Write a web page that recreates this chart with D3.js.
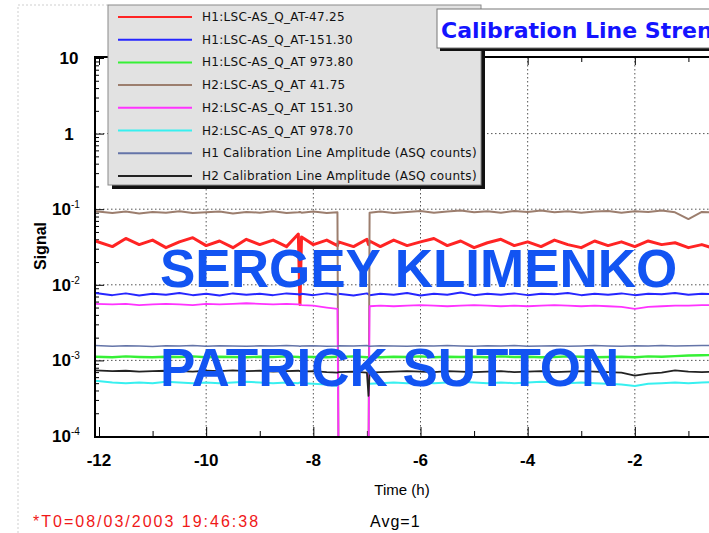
<!DOCTYPE html>
<html lang="en">
<head>
<meta charset="UTF-8">
<title>Calibration Line Strength</title>
<script src="https://d3js.org/d3.v7.min.js"></script>
<style>
  body { margin: 0; background: #fff; }
  svg { display: block; }
</style>
</head>
<body>
<script>
// time in hours before T0
var hours = [-12.07, -11.75, -11.5, -11.25, -11, -10.75, -10.5, -10.25, -10, -9.75,
             -9.5, -9.25, -9, -8.75, -8.5, -8.28, -8.25, -8.22, -8, -7.75,
             -7.55, -7.53, -7.25, -7, -6.97, -6.95, -6.75, -6.5, -6.25, -6,
             -5.75, -5.5, -5.25, -5, -4.75, -4.5, -4.25, -4, -3.75, -3.5,
             -3.25, -3, -2.75, -2.5, -2.25, -2, -1.75, -1.5, -1.25, -1,
             -0.75, -0.5];

var h1Low = [0.038, 0.032, 0.041, 0.034, 0.039, 0.031, 0.037, 0.042, 0.033, 0.038,
             0.031, 0.040, 0.034, 0.039, 0.032, 0.047, 0.0055, 0.043, 0.034, 0.039,
             0.033, 0.037, 0.032, 0.040, 0.034, 0.038, 0.032, 0.039, 0.033, 0.037,
             0.041, 0.033, 0.038, 0.031, 0.036, 0.040, 0.033, 0.037, 0.032, 0.039,
             0.034, 0.031, 0.038, 0.033, 0.037, 0.032, 0.038, 0.034, 0.036, 0.031,
             0.034, 0.030];
var h1Mid = [0.0078, 0.0073, 0.0077, 0.0072, 0.0076, 0.0074, 0.0078, 0.0073, 0.0076, 0.0072,
             0.0077, 0.0074, 0.0076, 0.0073, 0.0077, 0.0075, 0.0074, 0.0076, 0.0073, 0.0077,
             0.0074, 0.0076, 0.0072, 0.0077, 0.0075, 0.0073, 0.0076, 0.0074, 0.0078, 0.0072,
             0.0076, 0.0074, 0.0079, 0.0073, 0.0076, 0.0074, 0.0077, 0.0073, 0.0076, 0.0075,
             0.0078, 0.0073, 0.0076, 0.0074, 0.0077, 0.0073, 0.0076, 0.0075, 0.0078, 0.0074,
             0.0076, 0.0075];
var h1High = [0.00112, 0.00110, 0.00113, 0.00111, 0.00110, 0.00112, 0.00111, 0.00113, 0.00110, 0.00112,
              0.00111, 0.00110, 0.00112, 0.00111, 0.00113, 0.00111, 0.00110, 0.00112, 0.00111, 0.00110,
              0.00112, 0.00111, 0.00113, 0.00110, 0.00111, 0.00112, 0.00110, 0.00112, 0.00111, 0.00113,
              0.00110, 0.00112, 0.00111, 0.00112, 0.00110, 0.00113, 0.00111, 0.00112, 0.00110, 0.00111,
              0.00113, 0.00112, 0.00110, 0.00111, 0.00112, 0.00110, 0.00113, 0.00112, 0.00114, 0.00116,
              0.00117, 0.00118];
// 0 = H2 out of lock
var h2Low = [0.094, 0.089, 0.093, 0.088, 0.092, 0.090, 0.094, 0.089, 0.091, 0.093,
             0.088, 0.092, 0.090, 0.094, 0.089, 0.091, 0.092, 0.090, 0.093, 0.089,
             0.091, 0, 0, 0, 0, 0.090, 0.093, 0.089, 0.092, 0.095,
             0.090, 0.093, 0.096, 0.091, 0.094, 0.090, 0.095, 0.092, 0.096, 0.091,
             0.094, 0.090, 0.093, 0.095, 0.090, 0.094, 0.092, 0.096, 0.091, 0.074,
             0.092, 0.090];
var h2Mid = [0.0056, 0.0055, 0.0056, 0.0054, 0.0055, 0.0056, 0.0055, 0.0054, 0.0056, 0.0055,
             0.0056, 0.0057, 0.0056, 0.0055, 0.0056, 0.0055, 0.0055, 0.0054, 0.0053, 0.0050,
             0.0048, 0, 0, 0, 0, 0.0052, 0.0053, 0.0052, 0.0053, 0.0054,
             0.0053, 0.0052, 0.0053, 0.0054, 0.0053, 0.0052, 0.0053, 0.0052, 0.0053, 0.0054,
             0.0053, 0.0052, 0.0053, 0.0052, 0.0051, 0.0048, 0.0051, 0.0052, 0.0053, 0.0053,
             0.0054, 0.0054];
var h2High = [0.00054, 0.00051, 0.00050, 0.00051, 0.00050, 0.00052, 0.00051, 0.00050, 0.00051, 0.00050,
              0.00051, 0.00052, 0.00051, 0.00050, 0.00051, 0.00050, 0.00051, 0.00050, 0.00049, 0.00048,
              0.00046, null, null, null, null, 0.00049, 0.00050, 0.00051, 0.00050, 0.00051,
              0.00050, 0.00051, 0.00052, 0.00051, 0.00050, 0.00051, 0.00050, 0.00051, 0.00052, 0.00051,
              0.00050, 0.00051, 0.00050, 0.00049, 0.00048, 0.00046, 0.00049, 0.00050, 0.00051, 0.00050,
              0.00051, 0.00052];
var h1Amp = [0.00157, 0.00154, 0.00156, 0.00155, 0.00153, 0.00156, 0.00155, 0.00157, 0.00154, 0.00156,
             0.00155, 0.00154, 0.00156, 0.00155, 0.00157, 0.00155, 0.00154, 0.00155, 0.00156, 0.00154,
             0.00155, 0.00156, 0.00155, 0.00157, 0.00155, 0.00154, 0.00156, 0.00155, 0.00154, 0.00156,
             0.00155, 0.00157, 0.00155, 0.00154, 0.00156, 0.00155, 0.00157, 0.00154, 0.00155, 0.00156,
             0.00154, 0.00155, 0.00157, 0.00155, 0.00154, 0.00156, 0.00155, 0.00157, 0.00155, 0.00156,
             0.00158, 0.00157];
var h2Amp = [0.00074, 0.00072, 0.00073, 0.00071, 0.00072, 0.00073, 0.00072, 0.00071, 0.00073, 0.00072,
             0.00074, 0.00072, 0.00073, 0.00071, 0.00072, 0.00073, 0.00072, 0.00071, 0.00072, 0.00070,
             0.00069, 0.00070, 0.00071, 0.00069, 0.00034, 0.00069, 0.00070, 0.00071, 0.00072, 0.00071,
             0.00070, 0.00072, 0.00071, 0.00070, 0.00071, 0.00072, 0.00070, 0.00071, 0.00072, 0.00070,
             0.00071, 0.00072, 0.00071, 0.00070, 0.00069, 0.00063, 0.00067, 0.00069, 0.00074, 0.00071,
             0.00070, 0.00071];

var seriesNames = ["H1:LSC-AS_Q_AT-47.25", "H1:LSC-AS_Q_AT-151.30", "H1:LSC-AS_Q_AT 973.80",
                   "H2:LSC-AS_Q_AT 41.75", "H2:LSC-AS_Q_AT 151.30", "H2:LSC-AS_Q_AT 978.70",
                   "H1 Calibration Line Amplitude (ASQ counts)", "H2 Calibration Line Amplitude (ASQ counts)"];
var seriesValues = [h1Low, h1Mid, h1High, h2Low, h2Mid, h2High, h1Amp, h2Amp];
var seriesColors = ["#ff2424", "#2626ff", "#36f036", "#9c7e6e", "#ff33ff", "#38f0f0", "#6474a8", "#222222"];
var seriesWidths = [3, 2, 2.4, 2, 1.8, 2, 1.5, 1.8];

var xMajor = [-12, -10, -8, -6, -4, -2];
var xMinor = [-11, -9, -7, -5, -3, -1];
var xGrid = [-10, -8, -6, -4, -2];
var yMajor = [1e-4, 1e-3, 1e-2, 1e-1, 1, 10];
var yLabels = ["10^-4", "10^-3", "10^-2", "10^-1", "1", "10"];
var yGrid = [1e-3, 1e-2, 1e-1, 1];

var width = 709, height = 533;
var plotLeft = 95, plotTop = 57, plotBottom = 437, plotRight = 742;

var svg = d3.select('body').append('svg')
  .attr('width', width)
  .attr('height', height);

var xScale = d3.scaleLinear().domain([-12, 0]).range([99, 742]);
var yScale = d3.scaleLog().domain([1e-4, 10]).range([436, 58]);

// faint page border
svg.append('path')
  .attr('d', 'M18,' + height + 'V5H110')
  .attr('fill', 'none')
  .attr('stroke', '#cfcfcf')
  .attr('stroke-dasharray', '2,2');

svg.append('clipPath').attr('id', 'plotclip')
  .append('rect')
  .attr('x', plotLeft).attr('y', plotTop)
  .attr('width', plotRight - plotLeft).attr('height', plotBottom - plotTop);

// grid
var grid = svg.append('g')
  .attr('stroke', '#555')
  .attr('stroke-width', 1)
  .attr('stroke-dasharray', '1.5,2.5');
grid.selectAll('.gx').data(xGrid).enter().append('line')
  .attr('x1', function(d) { return xScale(d); })
  .attr('x2', function(d) { return xScale(d); })
  .attr('y1', plotTop).attr('y2', plotBottom);
grid.selectAll('.gy').data(yGrid).enter().append('line')
  .attr('x1', plotLeft).attr('x2', plotRight)
  .attr('y1', function(d) { return yScale(d); })
  .attr('y2', function(d) { return yScale(d); });

// ticks, drawn inward
var minorY = yScale.ticks().filter(function(d) { return yMajor.indexOf(d) < 0; });
function tickGroup(axis, tx, ty) {
  var g = svg.append('g').attr('transform', 'translate(' + tx + ',' + ty + ')').call(axis);
  g.select('.domain').remove();
  g.selectAll('line').attr('stroke', '#000');
  return g;
}
tickGroup(d3.axisRight(yScale).tickValues(minorY).tickSize(4).tickFormat(''), plotLeft, 0);
tickGroup(d3.axisRight(yScale).tickValues(yMajor).tickSize(9).tickFormat(''), plotLeft, 0);
tickGroup(d3.axisTop(xScale).tickValues(xMinor).tickSize(6).tickFormat(''), 0, plotBottom);
tickGroup(d3.axisTop(xScale).tickValues(xMajor).tickSize(10).tickFormat(''), 0, plotBottom);
tickGroup(d3.axisBottom(xScale).tickValues(xMinor).tickSize(5).tickFormat(''), 0, plotTop);
tickGroup(d3.axisBottom(xScale).tickValues(xMajor).tickSize(8).tickFormat(''), 0, plotTop);

// data lines (H2 lock loss: brown under a semi-transparent magenta gives the mauve drop)
var plot = svg.append('g').attr('clip-path', 'url(#plotclip)');
seriesValues.forEach(function(vals, s) {
  var pts = hours.map(function(h, i) { return [h, vals[i]]; });
  var line = d3.line()
    .defined(function(d) { return d[1] !== null; })
    .x(function(d) { return xScale(d[0]); })
    .y(function(d) { return d[1] > 0 ? yScale(d[1]) : plotBottom + 20; });
  plot.append('path')
    .datum(pts)
    .attr('d', line)
    .attr('fill', 'none')
    .attr('stroke', seriesColors[s])
    .attr('stroke-width', seriesWidths[s])
    .attr('stroke-linejoin', 'round');
});

// frame
svg.append('path')
  .attr('d', 'M' + plotRight + ',' + plotTop + 'H' + plotLeft + 'V' + plotBottom + 'H' + plotRight)
  .attr('fill', 'none')
  .attr('stroke', '#000')
  .attr('stroke-width', 2);

// tick labels
var bold = 'font-family:"Liberation Sans",Arial,sans-serif;font-weight:bold;';
svg.selectAll('.xl').data(xMajor).enter().append('text')
  .attr('x', function(d) { return xScale(d); })
  .attr('y', 466)
  .attr('text-anchor', 'middle')
  .attr('style', bold + 'font-size:17px')
  .text(function(d) { return d; });

yMajor.forEach(function(v, i) {
  var parts = yLabels[i].split('^');
  var t = svg.append('text')
    .attr('x', parts.length > 1 ? 66 : 69)
    .attr('y', yScale(v) + 6)
    .attr('text-anchor', 'middle')
    .attr('style', bold + 'font-size:17px');
  t.append('tspan').text(parts[0]);
  if (parts.length > 1) {
    t.append('tspan')
      .attr('dy', -7)
      .attr('style', 'font-size:10px;font-weight:normal')
      .text(parts[1]);
  }
});

svg.append('text')
  .attr('transform', 'translate(46,246) rotate(-90)')
  .attr('text-anchor', 'middle')
  .attr('style', bold + 'font-size:16px')
  .text('Signal');

svg.append('text')
  .attr('x', 402).attr('y', 495)
  .attr('text-anchor', 'middle')
  .attr('style', 'font-family:"Liberation Sans",Arial,sans-serif;font-size:15px')
  .text('Time (h)');

svg.append('text')
  .attr('x', 33).attr('y', 527)
  .attr('fill', '#f01818')
  .attr('style', 'font-family:"Liberation Sans",Arial,sans-serif;font-size:16px;letter-spacing:2px')
  .text('*T0=08/03/2003 19:46:38');

svg.append('text')
  .attr('x', 370).attr('y', 527)
  .attr('style', 'font-family:"Liberation Sans",Arial,sans-serif;font-size:16px;letter-spacing:1px')
  .text('Avg=1');

// legend
var lg = svg.append('g');
lg.append('rect').attr('x', 112).attr('y', 9).attr('width', 373).attr('height', 180).attr('fill', '#111');
lg.append('rect').attr('x', 108).attr('y', 5).attr('width', 373).attr('height', 180)
  .attr('fill', '#e2e2e2').attr('stroke', '#8a8a8a');
var rows = lg.selectAll('.row').data(seriesNames).enter().append('g')
  .attr('transform', function(d, i) { return 'translate(0,' + (17 + i * 22.7) + ')'; });
rows.append('line')
  .attr('x1', 118).attr('x2', 192)
  .attr('stroke', function(d, i) { return seriesColors[i]; })
  .attr('stroke-width', 2);
rows.append('text')
  .attr('x', 202).attr('y', 4)
  .attr('style', 'font-family:"DejaVu Sans",sans-serif;font-size:12px;letter-spacing:0.3px')
  .attr('fill', '#111')
  .text(function(d) { return d; });

// title box
svg.append('rect').attr('x', 440).attr('y', 12).attr('width', 290).attr('height', 39).attr('fill', '#111');
svg.append('rect').attr('x', 437).attr('y', 9).attr('width', 290).attr('height', 39)
  .attr('fill', '#fff').attr('stroke', '#777');
svg.append('text')
  .attr('x', 441).attr('y', 38)
  .attr('fill', '#1414ff')
  .attr('style', 'font-family:"DejaVu Sans",sans-serif;font-weight:bold;font-size:22px')
  .text('Calibration Line Strength');

// names over the plot
var names = svg.append('g')
  .attr('fill', '#1254f2')
  .attr('style', bold + 'font-size:53px');
names.append('text').attr('x', 160).attr('y', 287).text('SERGEY KLIMENKO');
names.append('text').attr('x', 160).attr('y', 386).text('PATRICK SUTTON');
</script>
</body>
</html>
